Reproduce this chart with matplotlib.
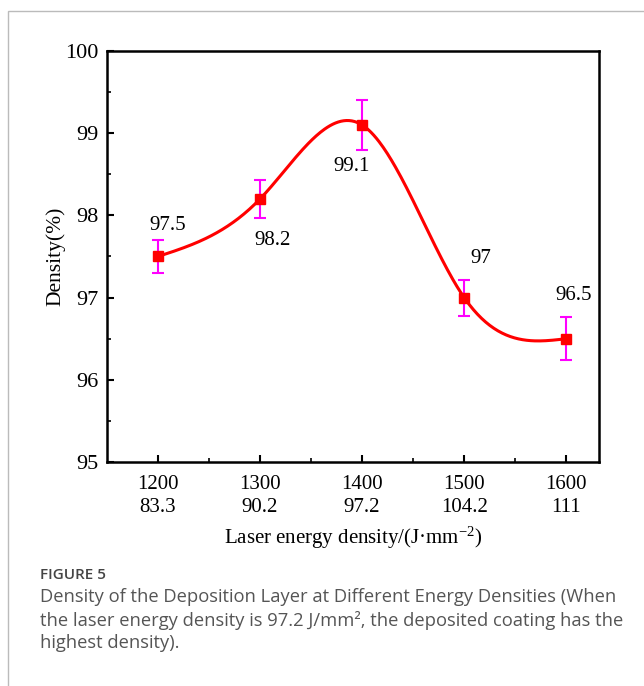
import numpy as np
import matplotlib
matplotlib.use("Agg")
import matplotlib.pyplot as plt
from matplotlib.patches import Rectangle

power = [1200, 1300, 1400, 1500, 1600]
energy = ["83.3", "90.2", "97.2", "104.2", "111"]
density = [97.5, 98.2, 99.1, 97.0, 96.5]
err = [0.2, 0.23, 0.3, 0.22, 0.26]
labels = ["97.5", "98.2", "99.1", "97", "96.5"]


def natural_spline(x, y, xs):
    # plain natural cubic spline, no scipy here
    x = np.asarray(x, float)
    y = np.asarray(y, float)
    n = len(x)
    h = np.diff(x)
    A = np.zeros((n, n))
    b = np.zeros(n)
    A[0, 0] = A[-1, -1] = 1
    for i in range(1, n - 1):
        A[i, i - 1] = h[i - 1]
        A[i, i] = 2 * (h[i - 1] + h[i])
        A[i, i + 1] = h[i]
        b[i] = 3 * ((y[i + 1] - y[i]) / h[i] - (y[i] - y[i - 1]) / h[i - 1])
    c = np.linalg.solve(A, b)
    out = np.empty_like(xs)
    for k, xv in enumerate(xs):
        i = min(np.searchsorted(x, xv) - 1, n - 2)
        i = max(i, 0)
        bb = (y[i + 1] - y[i]) / h[i] - h[i] * (2 * c[i] + c[i + 1]) / 3
        d = (c[i + 1] - c[i]) / (3 * h[i])
        t = xv - x[i]
        out[k] = y[i] + bb * t + c[i] * t ** 2 + d * t ** 3
    return out


serif = "Liberation Serif"
plt.rcParams["mathtext.fontset"] = "custom"
plt.rcParams["mathtext.rm"] = serif
plt.rcParams["mathtext.it"] = serif + ":italic"

fig = plt.figure(figsize=(6.44, 6.86), dpi=100)
fig.patches.append(Rectangle((8 / 644, -0.1), 1.2, 1 - 11 / 686 + 0.1,
                             transform=fig.transFigure, fill=False,
                             edgecolor="#bbbbbb", linewidth=1))

ax = fig.add_axes([0.166, 0.3265, 0.764, 0.5992])
xs = np.linspace(1200, 1600, 300)
ax.plot(xs, natural_spline(power, density, xs), color="red", lw=2.2, zorder=2)
ax.errorbar(power, density, yerr=err, fmt="none", ecolor="magenta",
            elinewidth=1.5, capsize=4.5, capthick=1.5, zorder=3)
ax.plot(power, density, "s", color="red", ms=6.5, zorder=4)

offsets = [(0.1, 0.38), (0.12, -0.5), (-0.1, -0.51), (0.16, 0.47), (0.07, 0.53)]
for p, d, t, (dx, dy) in zip(power, density, labels, offsets):
    ax.text(p + dx * 100, d + dy, t, ha="center", va="center",
            fontsize=15, family=serif)

ax.set_xlim(1150, 1632)
ax.set_ylim(95, 100)
ax.set_xticks(power)
ax.set_xticklabels([f"{p}\n{e}" for p, e in zip(power, energy)],
                   family=serif, fontsize=15, linespacing=1.3)
ax.set_xticks([1250, 1350, 1450, 1550], minor=True)
ax.set_yticks([95, 96, 97, 98, 99, 100])
ax.set_yticks([95.5, 96.5, 97.5, 98.5, 99.5], minor=True)
for lab in ax.get_yticklabels():
    lab.set_family(serif)
    lab.set_fontsize(16)
ax.tick_params(direction="in", which="major", length=5, width=1.5, pad=6)
ax.tick_params(axis="x", which="major", pad=9)
ax.tick_params(direction="in", which="minor", length=3, width=1.2)
for s in ax.spines.values():
    s.set_linewidth(1.8)

ax.set_ylabel("Density(%)", family=serif, fontsize=15.5, labelpad=0)
ax.set_xlabel("Laser energy density/(J·mm$^{-2}$)", family=serif,
              fontsize=15, labelpad=6)

cap = "#555555"
fig.text(40 / 644, 1 - 575 / 686, "FIGURE 5", fontsize=11, color="#444444",
         family="Open Sans", weight="semibold", va="center")
fig.text(40 / 644, 1 - 597 / 686,
         "Density of the Deposition Layer at Different Energy Densities (When",
         fontsize=13.2, color=cap, family="Open Sans", va="center")
fig.text(40 / 644, 1 - 620 / 686,
         "the laser energy density is 97.2 J/mm², the deposited coating has the",
         fontsize=13.2, color=cap, family="Open Sans", va="center")
fig.text(40 / 644, 1 - 643 / 686, "highest density).",
         fontsize=13.2, color=cap, family="Open Sans", va="center")

fig.savefig("out.png", dpi=100)
